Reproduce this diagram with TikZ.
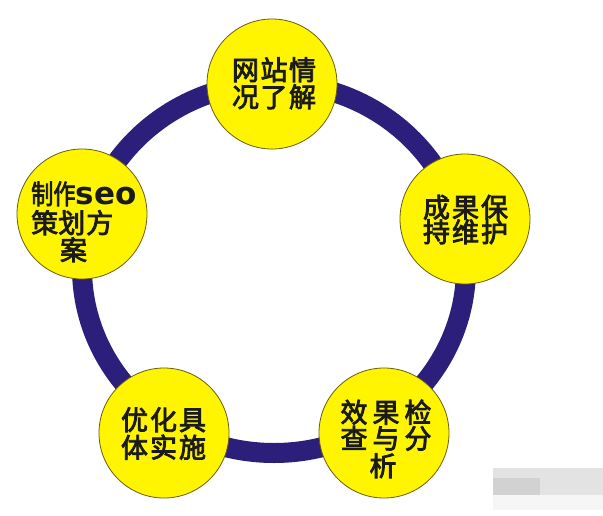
\documentclass[tikz,border=0pt]{standalone}
\usepackage{fontspec}
\newfontfamily\cjk[FakeBold=3]{Noto Sans CJK SC}
\newfontfamily\latinbold{DejaVu Sans}
\definecolor{ringblue}{HTML}{2B1F7B}
\definecolor{discyellow}{HTML}{FFF500}
\definecolor{discedge}{HTML}{6A5A10}
\definecolor{textdark}{HTML}{1A1A1A}
\begin{document}
\begin{tikzpicture}[x=1pt,y=-1pt,
  disc/.style={circle, fill=discyellow, draw=discedge, line width=0.8pt, minimum size=130pt, inner sep=0pt},
  txt/.style={anchor=base, inner sep=0pt, text=textdark, font=\cjk\fontsize{27}{27}\selectfont},
  ringline/.style={draw=ringblue, line width=20pt}]
\useasboundingbox (0,0) rectangle (603,515);
\fill[white] (0,0) rectangle (603,515);
% ring
\draw[ringline] (274,268) ellipse [x radius=192, y radius=185];
% discs
\node[disc] (top) at (272,84) {};
\node[disc] (right) at (465,219) {};
\node[disc] (left) at (82,214) {};
\node[disc] (botleft) at (164,433) {};
\node[disc] (botright) at (384,433) {};
% top text
\node[txt] (t1) at (274,80) {网\hspace{1.5pt}站\hspace{1.5pt}情};
\node[txt] (t2) at (274,107) {况\hspace{1.5pt}了\hspace{1.5pt}解};
% right text
\node[txt] (r1) at (465.5,217.5) {成\hspace{2pt}果\hspace{2pt}保};
\node[txt] (r2) at (465.5,242) {持\hspace{2pt}维\hspace{2pt}护};
% left text
\node[txt, anchor=base west] (l1) at (31,204) {\scalebox{0.82}[1]{制作}\hspace{0pt}{\latinbold\bfseries\fontsize{31}{31}\selectfont s\hspace{0.5pt}e\hspace{0.5pt}o}};
\node[txt, anchor=base west] (l2) at (31,233) {策\hspace{0pt}划\hspace{1pt}方};
\node[txt] (l3) at (73.5,260) {案};
% bottom-left text
\node[txt] (bl1) at (163.5,430) {优\hspace{2pt}化\hspace{2pt}具};
\node[txt] (bl2) at (163.5,457.5) {体\hspace{2pt}实\hspace{2pt}施};
% bottom-right text
\node[txt] (br1) at (386,422.5) {效\hspace{5pt}果\hspace{5pt}检};
\node[txt] (br2) at (386,448.5) {查\hspace{5pt}与\hspace{5pt}分};
\node[txt] (br3) at (383,476) {析};
% blurred watermark
\fill[gray!22] (493,468) rectangle (603,495);
\fill[gray!35] (493,478) rectangle (540,495);
\fill[gray!7] (493,495) rectangle (603,510);
\end{tikzpicture}
\end{document}
